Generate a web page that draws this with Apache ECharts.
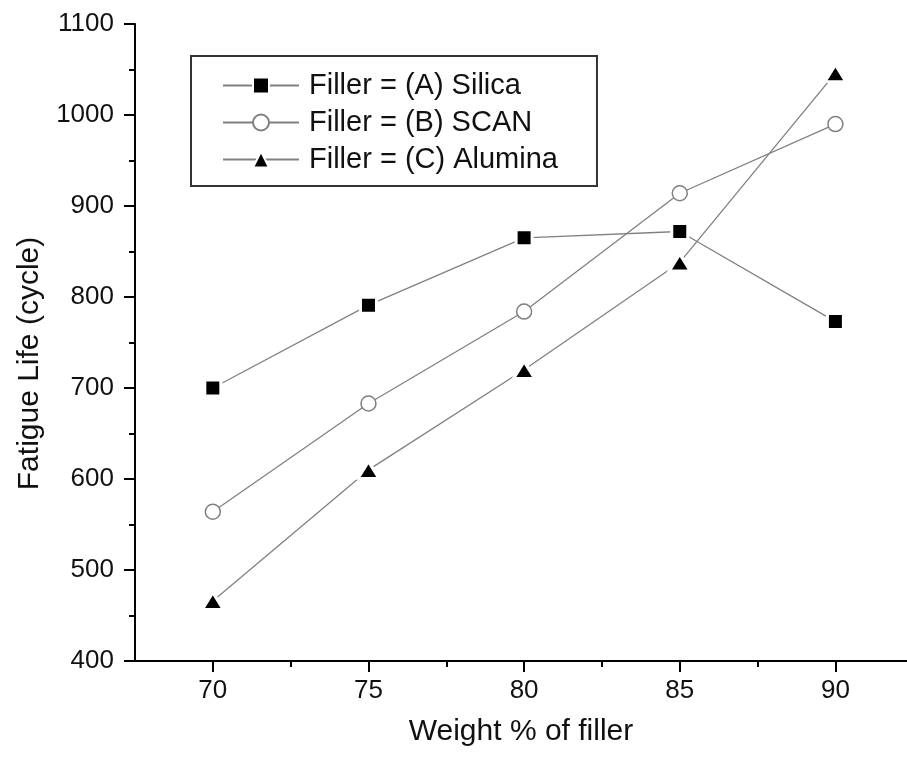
<!DOCTYPE html>
<html>
<head>
<meta charset="UTF-8">
<title>Fatigue Life vs filler</title>
<script src="https://cdn.jsdelivr.net/npm/echarts@6/dist/echarts.min.js"></script>
<style>
  html, body { margin: 0; padding: 0; background: #fff; }
  #main { width: 907px; height: 760px; }
</style>
</head>
<body>
<div id="main"></div>
<script>
// data
var weights = [70, 75, 80, 85, 90];
var silica = [700, 791, 865, 872, 773];
var scan = [564, 683, 784, 914, 990];
var alumina = [466, 610, 720, 838, 1046];
var xMajor = [70, 75, 80, 85, 90];
var xMinor = [72.5, 77.5, 82.5, 87.5];

function pairs(ys) {
  return weights.map(function (w, i) { return [w, ys[i]]; });
}

var font = 'Liberation Sans, Arial, sans-serif';
var lineStyle = { color: '#808080', width: 1.3 };

var chart = echarts.init(document.getElementById('main'));
chart.setOption({
  animation: false,
  grid: { left: 135, right: 0, top: 24, bottom: 99, containLabel: false },
  legend: {
    orient: 'vertical',
    left: 191,
    top: 56,
    padding: [15, 39, 12, 31],
    itemWidth: 76,
    itemHeight: 20,
    itemGap: 8,
    borderColor: '#333',
    borderWidth: 2,
    textStyle: { fontFamily: font, fontSize: 29, color: '#111', padding: [0, 0, 0, 5] },
    data: ['Filler = (A) Silica', 'Filler = (B) SCAN', 'Filler = (C) Alumina']
  },
  xAxis: [{
    type: 'value',
    min: 67.5,
    max: 92.3,
    name: 'Weight % of filler',
    nameLocation: 'middle',
    nameGap: 56,
    nameTextStyle: { fontFamily: font, fontSize: 30, color: '#111' },
    axisLine: { lineStyle: { color: '#000', width: 2 } },
    axisTick: { customValues: xMajor, length: 11, lineStyle: { color: '#000', width: 2 } },
    axisLabel: { customValues: xMajor, margin: 17, fontFamily: font, fontSize: 26, color: '#111' },
    splitLine: { show: false }
  }, {
    type: 'value',
    position: 'bottom',
    min: 67.5,
    max: 92.3,
    axisLine: { show: false },
    axisTick: { customValues: xMinor, length: 6, lineStyle: { color: '#000', width: 2 } },
    axisLabel: { show: false },
    splitLine: { show: false }
  }],
  yAxis: {
    type: 'value',
    min: 400,
    max: 1100,
    interval: 100,
    name: 'Fatigue Life (cycle)',
    nameLocation: 'middle',
    nameGap: 90,
    nameTextStyle: { fontFamily: font, fontSize: 30, color: '#111', padding: [0, 42, 0, 0] },
    axisLine: { show: true, lineStyle: { color: '#000', width: 2 } },
    axisTick: { show: true, length: 11, lineStyle: { color: '#000', width: 2 } },
    minorTick: { show: true, splitNumber: 2, length: 6, lineStyle: { color: '#000', width: 2 } },
    axisLabel: {
      margin: 21, fontFamily: font, fontSize: 26, color: '#111',
      formatter: function (v) { return String(v); }
    },
    splitLine: { show: false }
  },
  series: [{
    name: 'Filler = (A) Silica',
    type: 'line',
    data: pairs(silica),
    symbol: 'rect',
    symbolSize: 16,
    itemStyle: { color: '#000', borderColor: '#fff', borderWidth: 3 },
    lineStyle: lineStyle
  }, {
    name: 'Filler = (B) SCAN',
    type: 'line',
    data: pairs(scan),
    symbol: 'circle',
    symbolSize: 15,
    itemStyle: { color: '#fff', borderColor: '#808080', borderWidth: 1.5 },
    lineStyle: lineStyle
  }, {
    name: 'Filler = (C) Alumina',
    type: 'line',
    data: pairs(alumina),
    symbol: 'triangle',
    symbolSize: [21, 17],
    itemStyle: { color: '#000', borderColor: '#fff', borderWidth: 3 },
    lineStyle: lineStyle
  }]
});
</script>
</body>
</html>
